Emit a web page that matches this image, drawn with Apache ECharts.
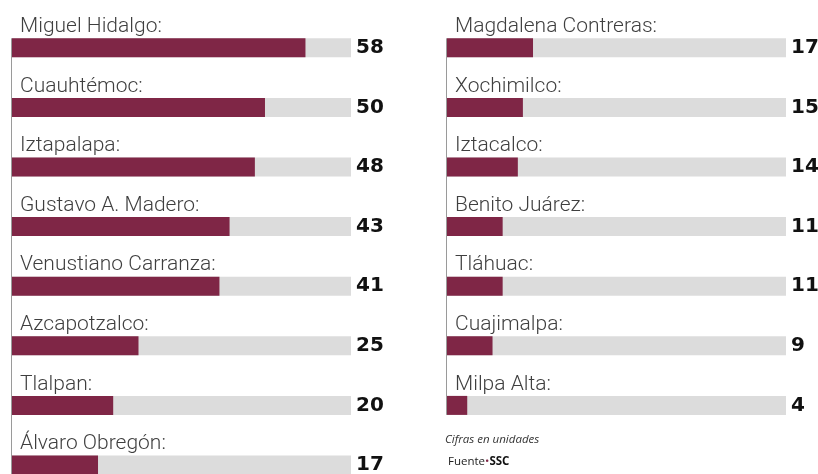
<!DOCTYPE html>
<html>
<head>
<meta charset="utf-8">
<script src="https://cdn.jsdelivr.net/npm/echarts@6/dist/echarts.min.js"></script>
<style>
html,body{margin:0;padding:0;background:#fff;}
#c{width:818px;height:474px;}
</style>
</head>
<body>
<div id="c"></div>
<script>
const leftCats = ['Miguel Hidalgo','Cuauhtémoc','Iztapalapa','Gustavo A. Madero','Venustiano Carranza','Azcapotzalco','Tlalpan','Álvaro Obregón'];
const leftVals = [58, 50, 48, 43, 41, 25, 20, 17];
const rightCats = ['Magdalena Contreras','Xochimilco','Iztacalco','Benito Juárez','Tláhuac','Cuajimalpa','Milpa Alta'];
const rightVals = [17, 15, 14, 11, 11, 9, 4];
const scaleMax = 67;
const noteText = 'Cifras en unidades';
const sourceLabel = 'Fuente';
const sourceName = 'SSC';

const MAROON = '#7f2646';
const GRAY = '#dcdcdc';
const BAND = 59.6;
const TOP = 18;
const BARW = 19;

const chart = echarts.init(document.getElementById('c'), null, {renderer: 'canvas'});

function column(idx, cats, vals) {
  return [
    {
      type: 'bar', xAxisIndex: idx, yAxisIndex: idx * 2,
      data: vals, barWidth: BARW,
      itemStyle: {color: MAROON},
      showBackground: true,
      backgroundStyle: {color: GRAY},
      label: {
        show: true, position: [8, -1],
        verticalAlign: 'bottom',
        formatter: p => p.name + ':',
        fontFamily: 'Roboto', fontWeight: 300, fontSize: 21, lineHeight: 21,
        color: '#3f3f3f'
      },
      silent: true, animation: false
    },
    {
      type: 'custom', xAxisIndex: idx, yAxisIndex: idx * 2,
      data: [0], silent: true, animation: false, z: 5,
      renderItem: function (params, api) {
        const a = api.coord([0, cats[0]]);
        const b = api.coord([0, cats[cats.length - 1]]);
        return {
          type: 'line',
          shape: {x1: a[0] - 0.5, y1: a[1] - BARW / 2, x2: b[0] - 0.5, y2: b[1] + BARW / 2},
          style: {stroke: '#9a9a9a', lineWidth: 1}
        };
      }
    }
  ];
}

function yAxes(idx, cats, vals) {
  return [
    {type: 'category', gridIndex: idx, data: cats, inverse: true,
     axisLine: {show: false}, axisTick: {show: false}, axisLabel: {show: false}},
    {type: 'category', gridIndex: idx, data: vals.map(String), inverse: true, position: 'right',
     axisLine: {show: false}, axisTick: {show: false},
     axisLabel: {show: true, margin: 5, fontFamily: 'DejaVu Sans', fontWeight: 'bold', fontSize: 20, color: '#111'}}
  ];
}

chart.setOption({
  animation: false,
  grid: [
    {left: 12, width: 339, top: TOP, height: BAND * leftCats.length, outerBoundsMode: 'none', containLabel: false},
    {left: 447, width: 339, top: TOP, height: BAND * rightCats.length, outerBoundsMode: 'none', containLabel: false}
  ],
  xAxis: [
    {type: 'value', gridIndex: 0, min: 0, max: scaleMax, show: false},
    {type: 'value', gridIndex: 1, min: 0, max: scaleMax, show: false}
  ],
  yAxis: [].concat(yAxes(0, leftCats, leftVals), yAxes(1, rightCats, rightVals)),
  series: [].concat(column(0, leftCats, leftVals), column(1, rightCats, rightVals)),
  graphic: [
    {type: 'text', left: 445, top: 434,
     style: {text: noteText, fontFamily: 'Open Sans', fontStyle: 'italic', fontSize: 11.5, fill: '#333'}},
    {type: 'text', left: 448, top: 456,
     style: {
       text: '{a|' + sourceLabel + '}{d|•}{b|' + sourceName + '}',
       rich: {
         a: {fontFamily: 'Open Sans', fontSize: 11.5, fill: '#222'},
         d: {fontFamily: 'Open Sans', fontSize: 11.5, fill: MAROON},
         b: {fontFamily: 'Open Sans', fontWeight: 'bold', fontSize: 11.5, fill: '#111'}
       }
     }}
  ]
});
</script>
</body>
</html>
